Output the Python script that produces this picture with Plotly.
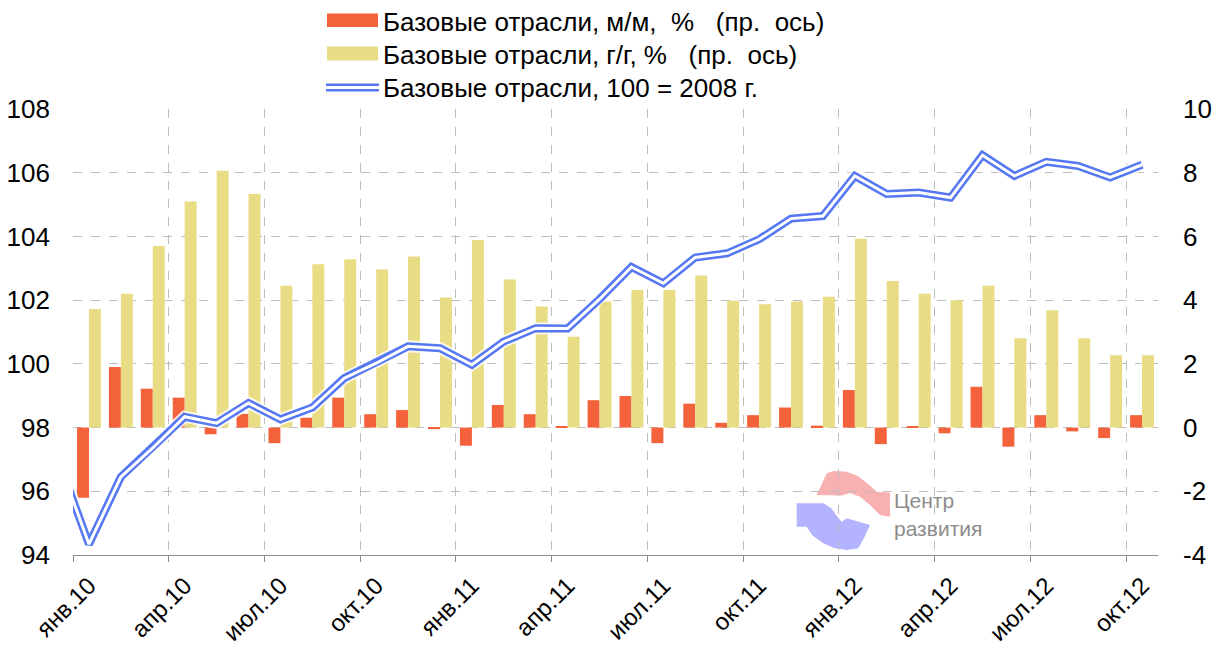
import numpy as np
import plotly.graph_objects as go

# ---------------- data ----------------
months = [
    "янв.10", "фев.10", "мар.10", "апр.10", "май.10", "июн.10", "июл.10", "авг.10", "сен.10", "окт.10", "ноя.10", "дек.10",
    "янв.11", "фев.11", "мар.11", "апр.11", "май.11", "июн.11", "июл.11", "авг.11", "сен.11", "окт.11", "ноя.11", "дек.11",
    "янв.12", "фев.12", "мар.12", "апр.12", "май.12", "июн.12", "июл.12", "авг.12", "сен.12", "окт.12",
]
mm_pct = [-2.2, 1.9, 1.22, 0.94, -0.21, 0.43, -0.49, 0.31, 0.94, 0.42, 0.55, -0.05,
          -0.57, 0.71, 0.42, 0.02, 0.86, 0.99, -0.49, 0.75, 0.15, 0.39, 0.63, 0.06,
          1.18, -0.52, 0.02, -0.18, 1.28, -0.6, 0.39, -0.12, -0.33, 0.39]
yy_pct = [3.72, 4.2, 5.7, 7.1, 8.06, 7.33, 4.45, 5.13, 5.28, 4.96, 5.37, 4.08,
          5.89, 4.65, 3.8, 2.85, 3.96, 4.32, 4.32, 4.77, 3.98, 3.87, 3.96, 4.11,
          5.93, 4.6, 4.2, 4.0, 4.45, 2.8, 3.68, 2.8, 2.27, 2.27]
# index, 100 = 2008; first value is Dec 2009 (outside visible range)
index_months = ["дек.09"] + months
index_vals = [97.1,
              94.34, 96.45, 97.36, 98.34, 98.14, 98.77, 98.26, 98.63, 99.55, 100.02, 100.55, 100.49,
              99.97, 100.7, 101.12, 101.11, 102.03, 103.04, 102.53, 103.34, 103.47, 103.91, 104.56, 104.64,
              105.9, 105.33, 105.38, 105.22, 106.55, 105.9, 106.34, 106.21, 105.85, 106.25]

tick_labels = months[::3]
left_ticks = [94, 96, 98, 100, 102, 104, 106, 108]
right_ticks = [-4, -2, 0, 2, 4, 6, 8, 10]

names = ["Базовые отрасли, м/м,\u00a0 %\u00a0\u00a0\u00a0(пр.\u00a0 ось)",
         "Базовые отрасли, г/г, %\u00a0\u00a0\u00a0(пр.\u00a0 ось)",
         "Базовые отрасли, 100 = 2008 г."]

RED = "#F4623C"
YEL = "#E8DC85"
BLUE = "#5577F2"
GRID = "#BDBDBD"
FONT = "Liberation Sans, Arial, sans-serif"

x_idx = np.arange(len(months))
x_line = np.arange(len(index_months)) - 1

fig = go.Figure()
fig.add_trace(go.Bar(x=x_idx, y=mm_pct, name=names[0], marker_color=RED,
                     marker_line_width=0, yaxis="y", showlegend=False))
fig.add_trace(go.Bar(x=x_idx, y=yy_pct, name=names[1], marker_color=YEL,
                     marker_line_width=0, yaxis="y", showlegend=False))
# double line: glow, blue outer, white inner
fig.add_trace(go.Scatter(x=x_line, y=index_vals, mode="lines", yaxis="y2",
                         line=dict(color="rgba(255,255,255,0.8)", width=12), showlegend=False,
                         hoverinfo="skip"))
fig.add_trace(go.Scatter(x=x_line, y=index_vals, mode="lines", yaxis="y2", name=names[2],
                         line=dict(color=BLUE, width=8), showlegend=False))
fig.add_trace(go.Scatter(x=x_line, y=index_vals, mode="lines", yaxis="y2",
                         line=dict(color="white", width=3), showlegend=False, hoverinfo="skip"))

L, R, T, B = 73, 1158, 109, 555
W, H = 1221, 650


def px(xp):
    return (xp - L) / (R - L)


def py(yp):
    return (B - yp) / (B - T)


shapes = []
annotations = []
# manual legend
shapes.append(dict(type="rect", xref="paper", yref="paper", x0=px(327), x1=px(378), y0=py(27), y1=py(13.5),
                   fillcolor=RED, line_width=0))
shapes.append(dict(type="rect", xref="paper", yref="paper", x0=px(327), x1=px(378), y0=py(60.5), y1=py(46.5),
                   fillcolor=YEL, line_width=0))
shapes.append(dict(type="line", xref="paper", yref="paper", x0=px(326), x1=px(379), y0=py(87.5), y1=py(87.5),
                   line=dict(color=BLUE, width=8)))
shapes.append(dict(type="line", xref="paper", yref="paper", x0=px(326), x1=px(379), y0=py(87.5), y1=py(87.5),
                   line=dict(color="white", width=3)))
for i, yy in enumerate([21, 54, 87]):
    annotations.append(dict(xref="paper", yref="paper", x=px(381), y=py(yy + 1), text=names[i], showarrow=False,
                            xanchor="left", yanchor="middle", font=dict(size=26, color="black", family=FONT)))


# watermark logo
def path(points):
    s = "M " + " L ".join(f"{px(a):.5f},{py(b):.5f}" for a, b in points) + " Z"
    return s


pink = [(826.7, 473.3), (834, 471), (846.7, 471.7), (858, 476), (868, 484), (876.7, 491.7), (890, 492.7),
        (890, 516.7), (880, 515), (870, 505), (860, 496.7), (850, 493), (842, 495.5), (816.7, 495)]
blue = [(796.7, 503.3), (823.3, 503.3), (831, 508), (836, 515), (841.7, 521.7), (846.7, 518.3), (870, 525),
        (864, 538), (858.3, 548.3), (846.7, 550), (834, 548), (823.3, 543.3), (812, 535), (806.7, 526.7),
        (796.7, 526.7)]
shapes.append(dict(type="path", xref="paper", yref="paper", path=path(pink), fillcolor="#F9B0B0",
                   line_width=0, layer="below"))
shapes.append(dict(type="path", xref="paper", yref="paper", path=path(blue), fillcolor="#B3B3FF",
                   line_width=0, layer="below"))
annotations.append(dict(xref="paper", yref="paper", x=px(892), y=py(500), text="Центр", showarrow=False,
                        xanchor="left", yanchor="middle", font=dict(size=21, color="#8C8C8C", family=FONT)))
annotations.append(dict(xref="paper", yref="paper", x=px(892), y=py(528), text="развития", showarrow=False,
                        xanchor="left", yanchor="middle", font=dict(size=21, color="#8C8C8C", family=FONT)))

fig.update_layout(
    width=W, height=H,
    margin=dict(l=L, r=W - R, t=T, b=H - B),
    paper_bgcolor="white", plot_bgcolor="white",
    barmode="group", bargap=0.25, bargroupgap=0,
    showlegend=False,
    font=dict(family=FONT, color="black"),
    shapes=shapes, annotations=annotations,
    xaxis=dict(range=[-0.5, len(months) - 0.5], tickmode="array",
               tickvals=[i - 0.5 for i in range(0, len(months), 3)], ticktext=tick_labels,
               tickangle=-45, tickfont=dict(size=24), ticklabelshift=16, ticklabelstandoff=0,
               showgrid=True, gridcolor=GRID, griddash="dash", gridwidth=1,
               ticks="outside", ticklen=6, tickcolor="#8C8C8C",
               showline=True, linecolor="#8C8C8C", linewidth=1, zeroline=False, automargin=False),
    yaxis=dict(range=[-4, 10], side="right", tickmode="array", tickvals=right_ticks,
               ticktext=[str(v) for v in right_ticks], tickfont=dict(size=26),
               showgrid=True, gridcolor=GRID, griddash="dash", gridwidth=1, zeroline=False,
               ticks="", showline=False, ticklabelstandoff=24, automargin=False),
    yaxis2=dict(range=[94, 108], side="left", overlaying="y", tickmode="array", tickvals=left_ticks,
                ticktext=[str(v) for v in left_ticks], tickfont=dict(size=26),
                showgrid=False, zeroline=False, ticks="", showline=False, ticklabelstandoff=22,
                automargin=False),
)

fig.write_html("out.html", config={"displayModeBar": False},
               post_script="document.body.style.margin='0';document.body.style.padding='0';")
